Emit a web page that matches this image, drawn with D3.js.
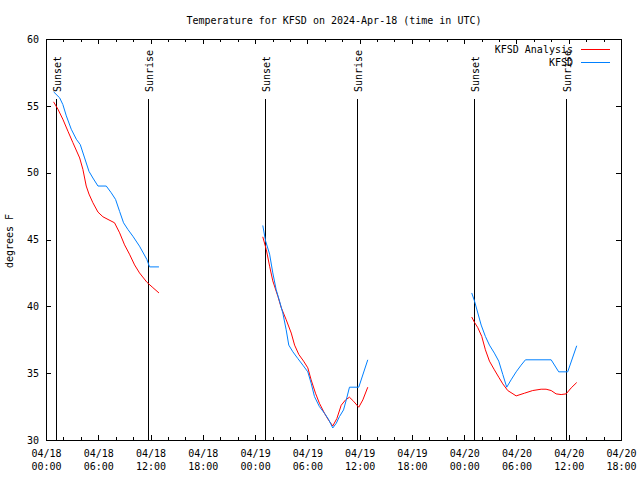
<!DOCTYPE html>
<html><head><meta charset="utf-8">
<script src="https://cdn.jsdelivr.net/npm/d3@7"></script>
<style>
html,body{margin:0;padding:0;background:#fff;}
svg{display:block;}
text{font-family:"DejaVu Sans Mono",monospace;font-size:10px;fill:#000;}
</style></head>
<body>
<svg id="chart" width="640" height="480"></svg>
<script>
// ---- data (hours since 2024-04-18 00:00 UTC; null = gap) ----
const startTime = "2024-04-18T00:00:00Z";
const endTime = "2024-04-20T18:00:00Z";
const titleText = "Temperature for KFSD on 2024-Apr-18 (time in UTC)";
const yLabelText = "degrees F";
const seriesNames = ["KFSD Analysis", "KFSD"];
const seriesColors = ["#ff0000", "#0080ff"];
const xMajorTickHours = [0, 6, 12, 18, 24, 30, 36, 42, 48, 54, 60, 66];
const xMinorTickHours = [2, 4, 8, 10, 14, 16, 20, 22, 26, 28, 32, 34, 38, 40, 44, 46, 50, 52, 56, 58, 62, 64];
const yTicks = [30, 35, 40, 45, 50, 55, 60];
const sunsetHours = [1.18, 25.12, 49.10];
const sunriseHours = [11.69, 35.67, 59.66];

const analysisHours = [0.87,1.37,1.94,2.51,3.09,3.86,4.24,4.62,4.93,5.38,5.96,6.53,7.11,7.87,8.45,9.02,9.59,10.17,10.74,11.58,12.27,12.96,
  null,
  24.89,25.28,25.66,26.04,26.61,27.0,27.57,28.15,28.53,29.02,29.56,30.05,30.44,30.94,31.39,31.97,32.46,32.92,33.38,33.88,34.38,34.84,35.3,35.9,36.36,36.94,
  null,
  48.87,49.18,49.56,50.02,50.44,50.9,51.47,51.97,52.43,53.0,53.96,54.92,55.87,56.83,57.4,57.98,58.55,59.13,59.7,60.28,60.92];
const analysisTemps = [55.3,54.75,54.0,53.1,52.25,51.1,50.25,49.0,48.4,47.75,47.05,46.7,46.5,46.25,45.5,44.6,43.9,43.1,42.5,41.8,41.4,41.0,
  null,
  45.2,44.25,43.0,41.9,40.75,39.9,39.0,38.0,37.1,36.4,35.9,35.4,34.5,33.5,32.75,32.0,31.45,31.05,31.6,32.6,33.0,33.2,32.9,32.45,33.0,33.95,
  null,
  39.2,38.8,38.4,37.75,36.75,35.9,35.25,34.7,34.2,33.7,33.3,33.5,33.7,33.8,33.8,33.7,33.45,33.4,33.45,33.9,34.3];

const obsHours = [0.87,1.56,1.94,2.33,2.9,3.48,3.93,4.43,4.93,5.38,5.96,6.92,7.49,7.99,8.45,8.9,9.4,9.97,10.74,11.58,11.89,12.96,
  null,
  24.89,25.2,25.66,26.04,26.42,26.8,27.18,27.57,27.87,28.33,28.9,29.48,30.05,30.44,30.82,31.39,31.97,32.46,32.92,33.31,33.69,34.15,34.46,34.84,35.9,36.94,
  null,
  48.87,49.18,49.56,49.95,50.44,50.9,51.47,51.97,52.43,52.89,53.39,53.96,54.54,55.03,57.98,58.85,59.89,60.92];
const obsTemps = [56.05,55.6,55.1,54.25,53.25,52.5,52.1,51.1,50.1,49.6,49.0,49.0,48.5,48.0,47.1,46.25,45.75,45.25,44.5,43.5,42.95,42.95,
  null,
  46.05,44.9,43.9,42.5,41.25,40.4,39.5,38.25,37.1,36.6,36.1,35.6,35.1,34.25,33.25,32.5,32.0,31.5,30.9,31.25,31.75,32.25,33.0,33.95,33.95,36.0,
  null,
  41.0,40.4,39.5,38.6,37.75,37.1,36.5,35.9,34.9,33.95,34.5,35.1,35.6,36.0,36.0,35.1,35.1,37.05];

// ---- layout ----
const t0 = new Date(startTime);
const toDate = h => d3.utcMinute.offset(t0, Math.round(h * 60));
const L = 46, R = 621, T = 39, B = 440;

const svg = d3.select("#chart");
const x = d3.scaleUtc().domain([t0, new Date(endTime)]).range([L, R]);
const y = d3.scaleLinear().domain([30, 60]).range([B, T]);

function styleAxis(g) {
  g.select(".domain").remove();
  g.attr("font-family", null).attr("font-size", null);
  g.selectAll("line").attr("stroke", "#000").attr("shape-rendering", "crispEdges");
}

// bottom major axis with two-line labels
const fmtDate = d3.utcFormat("%m/%d"), fmtTime = d3.utcFormat("%H:%M");
const gB = svg.append("g").attr("transform", `translate(0,${B})`)
  .call(d3.axisBottom(x).tickValues(xMajorTickHours.map(toDate)).tickSizeInner(-5).tickSizeOuter(0).tickFormat(""))
  .call(styleAxis);
gB.selectAll(".tick text").attr("y", null).attr("dy", null).attr("text-anchor", "middle")
  .each(function(d) {
    const t = d3.select(this);
    t.append("tspan").attr("x", 0).attr("y", 17).text(fmtDate(d));
    t.append("tspan").attr("x", 0).attr("y", 30).text(fmtTime(d));
  });
// bottom minor
svg.append("g").attr("transform", `translate(0,${B})`)
  .call(d3.axisBottom(x).tickValues(xMinorTickHours.map(toDate)).tickSizeInner(-3).tickSizeOuter(0).tickFormat(""))
  .call(styleAxis);
// top mirror
svg.append("g").attr("transform", `translate(0,${T})`)
  .call(d3.axisTop(x).tickValues(xMajorTickHours.map(toDate)).tickSizeInner(-5).tickSizeOuter(0).tickFormat(""))
  .call(styleAxis);
svg.append("g").attr("transform", `translate(0,${T})`)
  .call(d3.axisTop(x).tickValues(xMinorTickHours.map(toDate)).tickSizeInner(-3).tickSizeOuter(0).tickFormat(""))
  .call(styleAxis);
// left axis
svg.append("g").attr("transform", `translate(${L},0)`)
  .call(d3.axisLeft(y).tickValues(yTicks).tickSizeInner(-5).tickSizeOuter(0).tickPadding(7))
  .call(styleAxis)
  .selectAll("text").attr("text-anchor", "end");
// right mirror
svg.append("g").attr("transform", `translate(${R},0)`)
  .call(d3.axisRight(y).tickValues(yTicks).tickSizeInner(-5).tickSizeOuter(0).tickFormat(""))
  .call(styleAxis);

// frame
svg.append("rect").attr("x", L + 0.5).attr("y", T + 0.5).attr("width", R - L).attr("height", B - T)
  .attr("fill", "none").attr("stroke", "#000").attr("shape-rendering", "crispEdges");

// sunrise / sunset markers
const sunEvents = sunsetHours.map(h => ({h, label: "Sunset"}))
  .concat(sunriseHours.map(h => ({h, label: "Sunrise"})));
const sg = svg.append("g");
sunEvents.forEach(ev => {
  const xp = Math.round(x(toDate(ev.h))) + 0.5;
  sg.append("line").attr("x1", xp).attr("x2", xp).attr("y1", 99).attr("y2", B)
    .attr("stroke", "#000").attr("shape-rendering", "crispEdges");
  sg.append("text").attr("transform", `translate(${xp + 4.5},92) rotate(-90)`)
    .attr("text-anchor", "start").text(ev.label);
});

// series
function series(hours, temps) {
  return hours.map((h, i) => ({t: h == null ? null : toDate(h), v: temps[i]}));
}
const line = d3.line().defined(d => d.t != null && d.v != null).x(d => x(d.t)).y(d => y(d.v));
const allSeries = [series(analysisHours, analysisTemps), series(obsHours, obsTemps)];
allSeries.forEach((s, i) => {
  svg.append("path").datum(s).attr("d", line).attr("fill", "none")
    .attr("stroke", seriesColors[i]).attr("stroke-width", 1);
});

// legend
seriesNames.forEach((n, i) => {
  const yy = 49.5 + i * 13;
  svg.append("text").attr("x", 573).attr("y", yy + 3.5).attr("text-anchor", "end").text(n);
  svg.append("line").attr("x1", 581).attr("x2", 610).attr("y1", yy).attr("y2", yy)
    .attr("stroke", seriesColors[i]).attr("shape-rendering", "crispEdges");
});

// title and y label
svg.append("text").attr("x", (L + R) / 2 + 0.5).attr("y", 24).attr("text-anchor", "middle").text(titleText);
svg.append("text").attr("transform", "translate(13,241) rotate(-90)").attr("text-anchor", "middle").text(yLabelText);
</script>
</body></html>
